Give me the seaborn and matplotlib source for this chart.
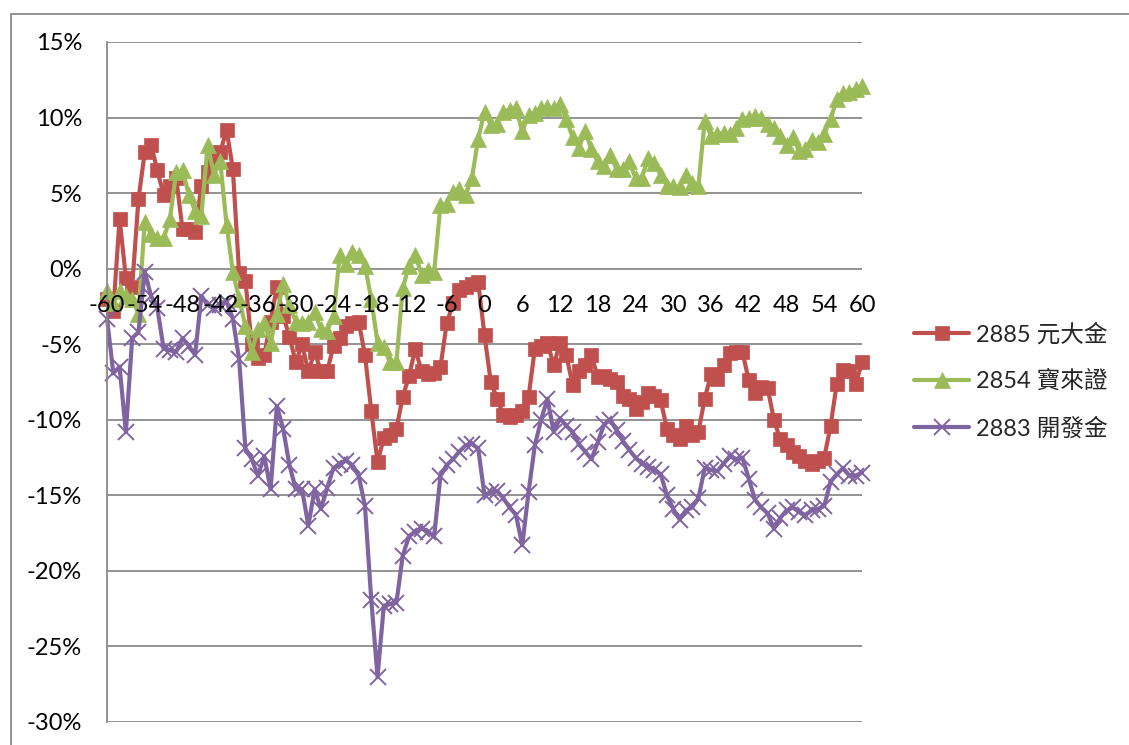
import matplotlib
matplotlib.use("Agg")
import matplotlib.pyplot as plt
import seaborn as sns
from matplotlib.patches import Rectangle

# ---------------- data (cumulative abnormal return, %) ----------------
days = list(range(-60, 61))

yuanta_2885 = [
    -2.0, -2.8, 3.3, -0.6, -1.2, 4.6, 7.7, 8.2, 6.5, 4.9,
    5.5, 6.0, 2.6, 2.6, 2.4, 5.5, 6.4, 7.3, 7.7, 9.2,
    6.6, -0.3, -0.8, -5.0, -5.9, -5.7, -3.5, -1.2, -3.1, -4.5,
    -6.2, -5.0, -6.8, -5.5, -6.8, -6.8, -5.1, -4.6, -3.8, -3.6,
    -3.5, -5.7, -9.4, -12.8, -11.2, -11.0, -10.6, -8.5, -7.1, -5.3,
    -6.8, -7.0, -6.9, -6.5, -3.6, -2.3, -1.4, -1.2, -1.0, -0.9,
    -4.4, -7.5, -8.6, -9.7, -9.8, -9.7, -9.4, -8.5, -5.3, -5.1,
    -4.9, -6.4, -4.9, -5.7, -7.7, -6.8, -6.4, -5.7, -7.2, -7.1,
    -7.3, -7.5, -8.4, -8.6, -9.3, -8.8, -8.2, -8.4, -8.7, -10.6,
    -11.0, -11.3, -10.4, -11.0, -10.8, -8.6, -7.0, -7.3, -6.4, -5.6,
    -5.5, -5.5, -7.4, -8.2, -7.8, -7.9, -10.0, -11.3, -11.7, -12.1,
    -12.4, -12.7, -12.9, -12.7, -12.5, -10.4, -7.6, -6.7, -6.8, -7.6,
    -6.2,
]

polaris_2854 = [
    -1.5, -2.3, -1.5, -1.8, -2.0, -3.0, 3.1, 2.3, 2.0, 2.0,
    3.3, 6.4, 6.5, 4.9, 3.8, 3.5, 8.2, 6.2, 7.1, 2.9,
    -0.2, -2.0, -3.8, -5.5, -4.0, -3.6, -4.9, -3.0, -1.0, -2.4,
    -3.5, -3.6, -3.5, -2.9, -4.0, -4.1, -3.1, 0.9, 0.3, 1.1,
    0.9, 0.2, -2.0, -4.9, -5.2, -6.2, -6.2, -1.3, 0.2, 0.9,
    -0.4, -0.1, -0.2, 4.2, 4.3, 5.1, 5.3, 4.9, 6.0, 8.6,
    10.4, 9.5, 9.6, 10.4, 10.5, 10.6, 9.1, 10.2, 10.3, 10.6,
    10.7, 10.6, 10.9, 9.9, 8.7, 8.0, 9.1, 7.9, 7.1, 6.8,
    7.5, 6.6, 6.6, 7.1, 6.0, 6.0, 7.3, 7.0, 6.2, 5.5,
    5.5, 5.4, 6.2, 5.7, 5.5, 9.8, 8.8, 8.9, 9.0, 8.9,
    9.3, 9.9, 10.0, 10.1, 10.0, 9.6, 9.3, 8.8, 8.2, 8.7,
    7.8, 7.9, 8.5, 8.4, 8.9, 9.9, 11.2, 11.6, 11.7, 11.9,
    12.1,
]

kgi_2883 = [
    -3.3, -6.9, -6.5, -10.8, -4.6, -4.2, -0.2, -1.8, -2.6, -5.3,
    -5.4, -5.5, -4.6, -5.1, -5.7, -1.8, -2.4, -2.6, -2.4, -2.2,
    -3.3, -6.0, -11.9, -12.6, -13.7, -12.4, -14.6, -9.1, -10.6, -13.0,
    -14.6, -14.6, -17.0, -14.6, -15.9, -14.5, -13.2, -12.9, -12.7, -13.0,
    -13.7, -15.7, -21.9, -27.0, -22.3, -22.2, -22.1, -19.0, -17.7, -17.4,
    -17.2, -17.4, -17.7, -13.7, -13.0, -12.6, -12.1, -11.7, -11.6, -11.9,
    -15.0, -14.8, -14.7, -15.2, -15.8, -16.3, -18.3, -14.8, -11.7, -10.0,
    -8.6, -10.8, -9.9, -10.4, -10.8, -11.6, -12.1, -12.6, -11.5, -10.3,
    -10.0, -10.7, -11.4, -12.0, -12.5, -12.9, -13.1, -13.3, -13.6, -15.0,
    -15.9, -16.6, -16.0, -15.8, -15.2, -13.2, -13.3, -13.4, -12.9, -12.4,
    -12.6, -12.5, -13.9, -15.3, -15.8, -16.2, -17.2, -16.5, -16.0, -15.8,
    -16.1, -16.3, -16.0, -15.9, -15.7, -14.1, -13.6, -13.2, -13.7, -13.7,
    -13.5,
]

series_labels = ["2885 元大金", "2854 寶來證", "2883 開發金"]
x_ticks = list(range(-60, 61, 6))
y_ticks = list(range(-30, 16, 5))

# ---------------- style ----------------
sns.set_style("white")
plt.rcParams["font.family"] = ["Lato", "Noto Sans CJK TC", "DejaVu Sans"]

W, H = 1129, 745
fig = plt.figure(figsize=(W / 100, H / 100), dpi=100)
left, right, top, bottom = 107, 862, 42, 722
ax = fig.add_axes([left / W, 1 - bottom / H, (right - left) / W, (bottom - top) / H])

grid_c = "#8a8a8a"
colors = ["#C0504D", "#9BBB59", "#8064A2"]
styles = [
    dict(marker="s", markersize=10.5, mec=colors[0], mew=0.5),
    dict(marker="^", markersize=12, mec=colors[1], mew=0.5),
    dict(marker="x", markersize=11.5, mec=colors[2], mew=1.4),
]

for vals, lab, col, st in zip([yuanta_2885, polaris_2854, kgi_2883],
                              series_labels, colors, styles):
    sns.lineplot(x=days, y=vals, ax=ax, color=col, lw=3.0, label=lab,
                 clip_on=False, **st)

ax.set_xlim(-60, 60)
ax.set_ylim(-30, 15)
ax.set_yticks(y_ticks)
ax.set_yticklabels([f"{v}%" for v in y_ticks])
ax.set_xticks(x_ticks)
ax.set_xticklabels([str(v) for v in x_ticks])
ax.set_xlabel("")
ax.set_ylabel("")

ax.yaxis.grid(True, color=grid_c, lw=1.3)
ax.xaxis.grid(False)
ax.set_axisbelow(True)
ax.xaxis.set_zorder(10)   # category labels drawn over the lines

for s in ["top", "right"]:
    ax.spines[s].set_visible(False)
ax.spines["left"].set_color(grid_c)
ax.spines["left"].set_linewidth(1.3)
ax.spines["bottom"].set_position(("data", 0))
ax.spines["bottom"].set_visible(False)

ax.tick_params(axis="x", length=0, pad=19, labelsize=17, colors="black")
ax.tick_params(axis="y", length=0, pad=18, labelsize=17, colors="black")

leg = ax.legend(loc="upper left", bbox_to_anchor=(902 / W, 1 - 311 / H),
                bbox_transform=fig.transFigure, frameon=False, borderpad=0,
                handlelength=2.35, handletextpad=0.3, labelspacing=1.05,
                fontsize=17)

# outer chart-area border
fig.add_artist(Rectangle((11 / W, -0.05), 1.2, 1 - 14 / H + 0.05,
                         transform=fig.transFigure, fill=False,
                         ec=grid_c, lw=1.3, clip_on=False))

fig.savefig("out.png", dpi=100)
